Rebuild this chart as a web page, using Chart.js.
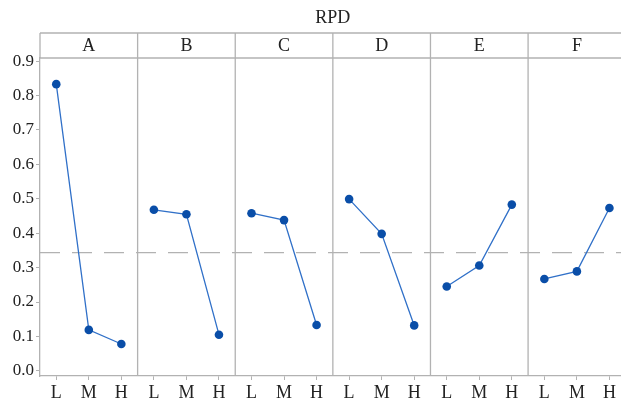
<!DOCTYPE html>
<html>
<head>
<meta charset="utf-8">
<script src="https://cdn.jsdelivr.net/npm/chart.js@4"></script>
<style>
html, body { margin: 0; padding: 0; overflow: hidden; background: #fff; }
canvas { display: block; }
</style>
</head>
<body>
<canvas id="rpdChart" width="630" height="401"></canvas>
<script>
const factors = ["A", "B", "C", "D", "E", "F"];
const levels = ["L", "M", "H"];
const rpdA = [0.833, 0.119, 0.078];
const rpdB = [0.468, 0.455, 0.105];
const rpdC = [0.458, 0.438, 0.133];
const rpdD = [0.499, 0.398, 0.132];
const rpdE = [0.245, 0.306, 0.483];
const rpdF = [0.267, 0.289, 0.473];
const yTicks = [0, 0.1, 0.2, 0.3, 0.4, 0.5, 0.6, 0.7, 0.8, 0.9];
const titleText = "RPD";

const series = [rpdA, rpdB, rpdC, rpdD, rpdE, rpdF];
const labels = factors.flatMap(f => levels.map(l => f + l));
const allValues = series.flat();
const grandMean = allValues.reduce((a, b) => a + b, 0) / allValues.length;

const serif = "'Liberation Serif', 'DejaVu Serif', serif";
const gray = "#b2b2b2";

// strip headers, panel separators and the dashed grand mean
const panelPlugin = {
  id: "panels",
  beforeDatasetsDraw(chart) {
    const { ctx, chartArea: a, scales: { x, y } } = chart;
    const stripTop = 33;
    ctx.save();
    ctx.strokeStyle = gray;
    ctx.lineWidth = 1.3;

    const ym = y.getPixelForValue(grandMean);
    ctx.setLineDash([20, 12]);
    ctx.beginPath();
    ctx.moveTo(a.left, ym);
    ctx.lineTo(a.right, ym);
    ctx.stroke();
    ctx.setLineDash([]);

    const bounds = [a.left];
    for (let i = 1; i < factors.length; i++) {
      const k = i * levels.length;
      bounds.push((x.getPixelForValue(k - 1) + x.getPixelForValue(k)) / 2);
    }
    bounds.push(a.right);

    ctx.beginPath();
    ctx.moveTo(a.left, stripTop);
    ctx.lineTo(a.right, stripTop);
    ctx.moveTo(a.left, a.top);
    ctx.lineTo(a.right, a.top);
    ctx.moveTo(a.left, stripTop);
    ctx.lineTo(a.left, a.top);
    for (let i = 1; i < bounds.length - 1; i++) {
      ctx.moveTo(bounds[i], stripTop);
      ctx.lineTo(bounds[i], a.bottom);
    }
    ctx.stroke();

    ctx.fillStyle = "#222";
    ctx.font = "18px " + serif;
    ctx.textAlign = "center";
    ctx.textBaseline = "middle";
    factors.forEach((f, i) => {
      ctx.fillText(f, (bounds[i] + bounds[i + 1]) / 2, (stripTop + a.top) / 2 + 1);
    });
    ctx.fillText(titleText, (a.left + a.right) / 2, 18);
    ctx.restore();
  }
};

new Chart(document.getElementById("rpdChart").getContext("2d"), {
  type: "line",
  data: {
    labels: labels,
    datasets: series.map((vals, p) => ({
      label: factors[p],
      data: vals.map((v, i) => ({ x: factors[p] + levels[i], y: v })),
      borderColor: "#3070c8",
      borderWidth: 1.3,
      pointRadius: 4.3,
      pointBackgroundColor: "#0a4ea8",
      pointBorderColor: "#0a4ea8",
      pointBorderWidth: 0,
      tension: 0,
      clip: false
    }))
  },
  options: {
    responsive: false,
    animation: false,
    layout: { padding: { top: 58, right: 2, left: 0, bottom: 0 } },
    plugins: {
      legend: { display: false },
      tooltip: { enabled: false }
    },
    scales: {
      x: {
        type: "category",
        offset: true,
        grid: { offset: false, drawOnChartArea: false, tickLength: 4, color: gray },
        border: { color: gray, width: 1.3 },
        ticks: {
          color: "#222",
          font: { family: serif, size: 18 },
          padding: 2,
          maxRotation: 0,
          autoSkip: false,
          callback: (val, idx) => levels[idx % levels.length]
        },
        afterFit: s => { s.height = 25; }
      },
      y: {
        min: -0.015,
        max: 0.909,
        grid: { drawOnChartArea: false, tickLength: 4, color: gray },
        border: { color: gray, width: 1.3 },
        ticks: {
          color: "#222",
          font: { family: serif, size: 17 },
          padding: 2,
          callback: v => v.toFixed(1)
        },
        afterBuildTicks: s => { s.ticks = yTicks.map(v => ({ value: v })); },
        afterFit: s => { s.width = 40; }
      }
    }
  },
  plugins: [panelPlugin]
});
</script>
</body>
</html>
